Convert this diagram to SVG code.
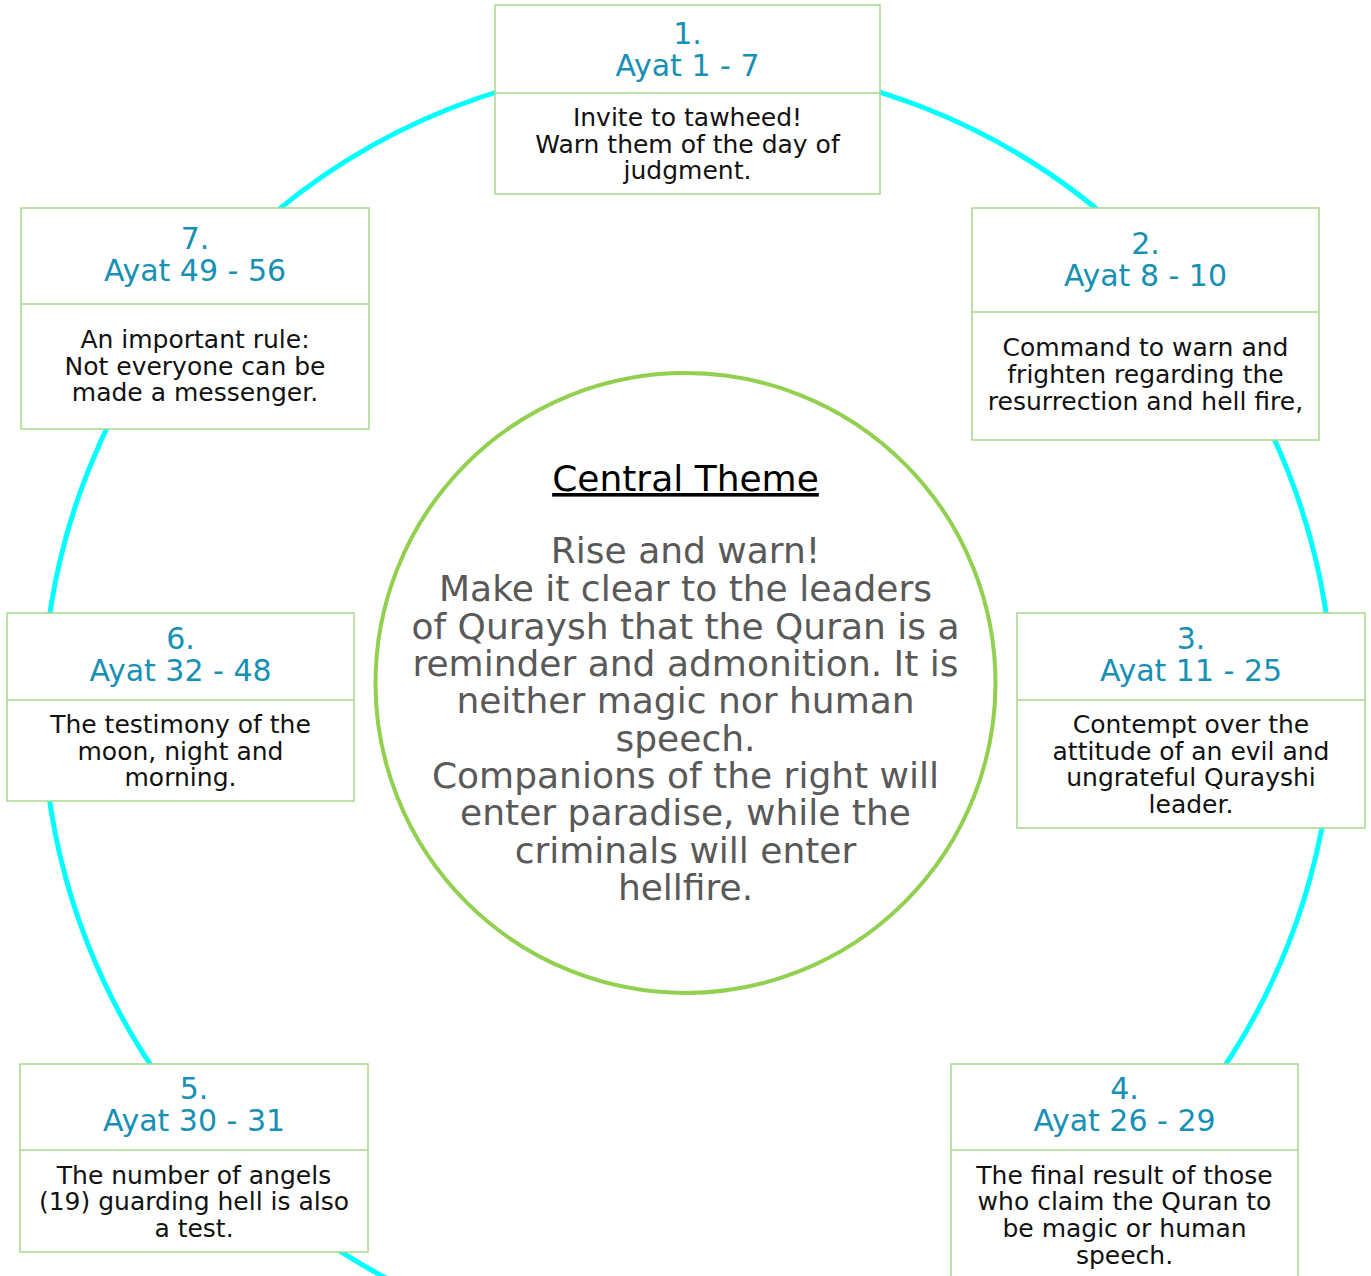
<svg xmlns="http://www.w3.org/2000/svg" width="1371" height="1276" viewBox="0 0 1371 1276">
<style>
.box{fill:#ffffff;stroke:#a9d88c;stroke-width:1.5}
.div{stroke:#a9d88c;stroke-width:1.5}
.ttl{font-family:"DejaVu Sans",sans-serif;font-size:30px;fill:#1690b5;text-anchor:middle}
.bd{font-family:"DejaVu Sans",sans-serif;font-size:25px;fill:#111111;text-anchor:middle}
.ct{font-family:"DejaVu Sans",sans-serif;font-size:36px;fill:#000000;text-anchor:middle;text-decoration:underline}
.cb{font-family:"DejaVu Sans",sans-serif;font-size:36px;fill:#595959;text-anchor:middle}
</style>
<rect width="1371" height="1276" fill="#ffffff"/>
<g id="connectors">
<circle cx="688" cy="708" r="645" fill="none" stroke="#00ffff" stroke-width="5"/>
</g>
<g id="center">
<circle cx="685.5" cy="683" r="310" fill="#ffffff" stroke="#92d050" stroke-width="4"/>
<text class="ct" x="685.5" y="491">Central Theme</text>
<text class="cb" x="685.5" y="563">Rise and warn!</text>
<text class="cb" x="685.5" y="601">Make it clear to the leaders</text>
<text class="cb" x="685.5" y="639">of Quraysh that the Quran is a</text>
<text class="cb" x="685.5" y="676">reminder and admonition. It is</text>
<text class="cb" x="685.5" y="713">neither magic nor human</text>
<text class="cb" x="685.5" y="751">speech.</text>
<text class="cb" x="685.5" y="788">Companions of the right will</text>
<text class="cb" x="685.5" y="825">enter paradise, while the</text>
<text class="cb" x="685.5" y="863">criminals will enter</text>
<text class="cb" x="685.5" y="900">hellfire.</text>
</g>
<g id="node1">
<rect class="box" x="495" y="5" width="385" height="189"/>
<line class="div" x1="495" y1="93" x2="880" y2="93"/>
<text class="ttl" x="687.5" y="44">1.</text>
<text class="ttl" x="687.5" y="76">Ayat 1 - 7</text>
<text class="bd" x="687.5" y="126">Invite to tawheed!</text>
<text class="bd" x="687.5" y="153">Warn them of the day of</text>
<text class="bd" x="687.5" y="179">judgment.</text>
</g>
<g id="node2">
<rect class="box" x="972" y="208" width="347" height="232"/>
<line class="div" x1="972" y1="312" x2="1319" y2="312"/>
<text class="ttl" x="1145.5" y="254">2.</text>
<text class="ttl" x="1145.5" y="286">Ayat 8 - 10</text>
<text class="bd" x="1145.5" y="356">Command to warn and</text>
<text class="bd" x="1145.5" y="383">frighten regarding the</text>
<text class="bd" x="1145.5" y="410">resurrection and hell fire,</text>
</g>
<g id="node3">
<rect class="box" x="1017" y="613" width="348" height="215"/>
<line class="div" x1="1017" y1="700" x2="1365" y2="700"/>
<text class="ttl" x="1191" y="649">3.</text>
<text class="ttl" x="1191" y="681">Ayat 11 - 25</text>
<text class="bd" x="1191" y="733">Contempt over the</text>
<text class="bd" x="1191" y="760">attitude of an evil and</text>
<text class="bd" x="1191" y="786">ungrateful Qurayshi</text>
<text class="bd" x="1191" y="813">leader.</text>
</g>
<g id="node4">
<rect class="box" x="951" y="1064" width="347" height="230"/>
<line class="div" x1="951" y1="1150" x2="1298" y2="1150"/>
<text class="ttl" x="1124.5" y="1099">4.</text>
<text class="ttl" x="1124.5" y="1131">Ayat 26 - 29</text>
<text class="bd" x="1124.5" y="1184">The final result of those</text>
<text class="bd" x="1124.5" y="1210">who claim the Quran to</text>
<text class="bd" x="1124.5" y="1237">be magic or human</text>
<text class="bd" x="1124.5" y="1264">speech.</text>
</g>
<g id="node5">
<rect class="box" x="20" y="1064" width="348" height="188"/>
<line class="div" x1="20" y1="1150" x2="368" y2="1150"/>
<text class="ttl" x="194" y="1099">5.</text>
<text class="ttl" x="194" y="1131">Ayat 30 - 31</text>
<text class="bd" x="194" y="1184">The number of angels</text>
<text class="bd" x="194" y="1210">(19) guarding hell is also</text>
<text class="bd" x="194" y="1237">a test.</text>
</g>
<g id="node6">
<rect class="box" x="7" y="613" width="347" height="188"/>
<line class="div" x1="7" y1="700" x2="354" y2="700"/>
<text class="ttl" x="180.5" y="649">6.</text>
<text class="ttl" x="180.5" y="681">Ayat 32 - 48</text>
<text class="bd" x="180.5" y="733">The testimony of the</text>
<text class="bd" x="180.5" y="760">moon, night and</text>
<text class="bd" x="180.5" y="786">morning.</text>
</g>
<g id="node7">
<rect class="box" x="21" y="208" width="348" height="221"/>
<line class="div" x1="21" y1="304" x2="369" y2="304"/>
<text class="ttl" x="195" y="249">7.</text>
<text class="ttl" x="195" y="281">Ayat 49 - 56</text>
<text class="bd" x="195" y="348">An important rule:</text>
<text class="bd" x="195" y="375">Not everyone can be</text>
<text class="bd" x="195" y="401">made a messenger.</text>
</g>
</svg>
